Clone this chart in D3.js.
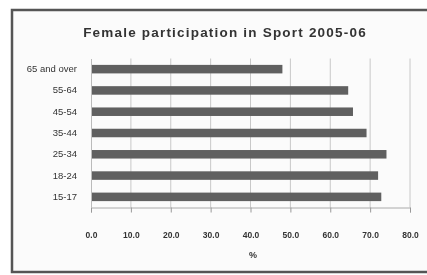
<!DOCTYPE html>
<html>
<head>
<meta charset="utf-8">
<script src="https://cdn.jsdelivr.net/npm/d3@7"></script>
<style>
  body { margin: 0; background: #fff; }
  svg { display: block; filter: blur(0.5px); }
  text { font-family: "Liberation Sans", Arial, sans-serif; fill: #333; }
</style>
</head>
<body>
<svg width="427" height="275"></svg>
<script>
// Data (bottom to top, as Excel draws it)
var ageGroups = ["15-17", "18-24", "25-34", "35-44", "45-54", "55-64", "65 and over"];
var participation = [72.8, 72.0, 74.1, 69.1, 65.7, 64.5, 48.0];
var tickValues = [0, 10, 20, 30, 40, 50, 60, 70, 80];
var chartTitle = "Female participation in Sport 2005-06";
var axisTitle = "%";

var svg = d3.select("svg"),
  width = +svg.attr("width"),
  height = +svg.attr("height");

// chart area frame
svg.append("rect")
  .attr("x", 12).attr("y", 10)
  .attr("width", 420).attr("height", 262)
  .attr("fill", "#fbfbfb")
  .attr("stroke", "#555")
  .attr("stroke-width", 2.5);

// scales
var x = d3.scaleLinear()
  .domain([0, 80])
  .range([91, 410]);

var y = d3.scaleBand()
  .domain(ageGroups.slice().reverse())
  .range([58.5, 207.5])
  .paddingInner(0.6)
  .paddingOuter(0.3);

// gridlines
svg.append("g")
  .selectAll("line")
  .data(tickValues.slice(1))
  .enter().append("line")
    .attr("x1", function(d) { return x(d); })
    .attr("x2", function(d) { return x(d); })
    .attr("y1", 58.5)
    .attr("y2", 207.5)
    .attr("stroke", "#c8c8c8")
    .attr("stroke-width", 1);

// bars
svg.append("g")
  .selectAll("rect")
  .data(ageGroups)
  .enter().append("rect")
    .attr("x", x(0))
    .attr("y", function(d) { return y(d); })
    .attr("width", function(d, i) { return x(participation[i]) - x(0); })
    .attr("height", y.bandwidth())
    .attr("fill", "#606060");

// x axis
var xAxis = svg.append("g")
  .attr("transform", "translate(0,207.5)")
  .call(d3.axisBottom(x)
    .tickValues(tickValues)
    .tickFormat(d3.format(".1f"))
    .tickSize(5)
    .tickPadding(19));
xAxis.select(".domain").attr("stroke", "#aaa");
xAxis.selectAll(".tick line").attr("stroke", "#999");
xAxis.selectAll("text")
  .style("font-size", "8.5px")
  .style("font-weight", "bold")
  .attr("fill", "#555");

// y axis
var yAxis = svg.append("g")
  .attr("transform", "translate(" + x(0) + ",0)")
  .call(d3.axisLeft(y).tickSize(0).tickPadding(14));
yAxis.select(".domain").attr("stroke", "#bbb");
yAxis.selectAll("text")
  .style("font-size", "9.5px")
  .attr("fill", "#555");

// title
svg.append("text")
  .attr("x", 225)
  .attr("y", 37)
  .attr("text-anchor", "middle")
  .style("font-size", "13.5px")
  .style("font-weight", "bold")
  .style("letter-spacing", "1.2px")
  .text(chartTitle);

// axis title
svg.append("text")
  .attr("x", 253)
  .attr("y", 258)
  .attr("text-anchor", "middle")
  .style("font-size", "9px")
  .style("font-weight", "bold")
  .text(axisTitle);
</script>
</body>
</html>
